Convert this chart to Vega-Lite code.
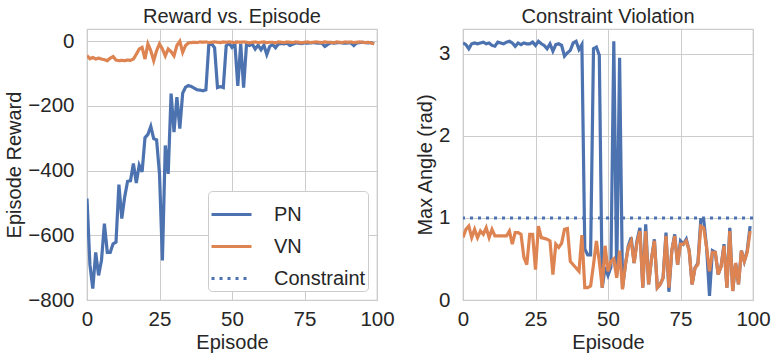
{
 "$schema": "https://vega.github.io/schema/vega-lite/v6.json",
 "padding": {"left": 4, "top": 6, "right": 5, "bottom": 5},
 "bounds": "flush",
 "spacing": 86,
 "datasets": {
  "reward": [
   {"e":0,"PN":-486,"VN":-44},{"e":1,"PN":-690,"VN":-54},{"e":2,"PN":-765,"VN":-50},{"e":3,"PN":-653,"VN":-55},{"e":4,"PN":-724,"VN":-52},
   {"e":5,"PN":-677,"VN":-55},{"e":6,"PN":-564,"VN":-57},{"e":7,"PN":-653,"VN":-60},{"e":8,"PN":-653,"VN":-52},{"e":9,"PN":-626,"VN":-47},
   {"e":10,"PN":-621,"VN":-58},{"e":11,"PN":-443,"VN":-60},{"e":12,"PN":-548,"VN":-59},{"e":13,"PN":-481,"VN":-60},{"e":14,"PN":-433,"VN":-58},
   {"e":15,"PN":-431,"VN":-59},{"e":16,"PN":-378,"VN":-55},{"e":17,"PN":-438,"VN":-40},{"e":18,"PN":-383,"VN":-24},{"e":19,"PN":-404,"VN":-19},
   {"e":20,"PN":-298,"VN":-55},{"e":21,"PN":-288,"VN":-8},{"e":22,"PN":-263,"VN":-29},{"e":23,"PN":-301,"VN":-60},{"e":24,"PN":-305,"VN":-29},
   {"e":25,"PN":-410,"VN":-8},{"e":26,"PN":-678,"VN":-24},{"e":27,"PN":-322,"VN":-45},{"e":28,"PN":-410,"VN":-24},{"e":29,"PN":-162,"VN":-32},
   {"e":30,"PN":-281,"VN":-45},{"e":31,"PN":-173,"VN":-13},{"e":32,"PN":-270,"VN":0},{"e":33,"PN":-160,"VN":-34},{"e":34,"PN":-142,"VN":-13},
   {"e":35,"PN":-137,"VN":-5},{"e":36,"PN":-140,"VN":-4},{"e":37,"PN":-145,"VN":-3},{"e":38,"PN":-150,"VN":-4},{"e":39,"PN":-151,"VN":-2},
   {"e":40,"PN":-153,"VN":-3},{"e":41,"PN":-150,"VN":-2},{"e":42,"PN":-11,"VN":-4},{"e":43,"PN":-8,"VN":-3},{"e":44,"PN":-20,"VN":-2},
   {"e":45,"PN":-143,"VN":-3},{"e":46,"PN":-140,"VN":-4},{"e":47,"PN":-143,"VN":-2},{"e":48,"PN":-14,"VN":-3},{"e":49,"PN":-6,"VN":-2},
   {"e":50,"PN":-19,"VN":-3},{"e":51,"PN":-8,"VN":-4},{"e":52,"PN":-138,"VN":-2},{"e":53,"PN":-8,"VN":-3},{"e":54,"PN":-143,"VN":-2},
   {"e":55,"PN":-10,"VN":-3},{"e":56,"PN":-13,"VN":-5},{"e":57,"PN":-9,"VN":-3},{"e":58,"PN":-24,"VN":-2},{"e":59,"PN":-12,"VN":-4},
   {"e":60,"PN":-26,"VN":-3},{"e":61,"PN":-12,"VN":-2},{"e":62,"PN":-41,"VN":-4},{"e":63,"PN":-16,"VN":-3},{"e":64,"PN":-10,"VN":-3},
   {"e":65,"PN":-20,"VN":-5},{"e":66,"PN":-8,"VN":-2},{"e":67,"PN":-7,"VN":-3},{"e":68,"PN":-8,"VN":-4},{"e":69,"PN":-6,"VN":-2},
   {"e":70,"PN":-13,"VN":-3},{"e":71,"PN":-9,"VN":-4},{"e":72,"PN":-5,"VN":-2},{"e":73,"PN":-6,"VN":-3},{"e":74,"PN":-7,"VN":-5},
   {"e":75,"PN":-5,"VN":-3},{"e":76,"PN":-6,"VN":-2},{"e":77,"PN":-5,"VN":-4},{"e":78,"PN":-4,"VN":-3},{"e":79,"PN":-5,"VN":-2},
   {"e":80,"PN":-6,"VN":-3},{"e":81,"PN":-6,"VN":-4},{"e":82,"PN":-16,"VN":-2},{"e":83,"PN":-10,"VN":-3},{"e":84,"PN":-4,"VN":-3},
   {"e":85,"PN":-6,"VN":-5},{"e":86,"PN":-5,"VN":-2},{"e":87,"PN":-4,"VN":-3},{"e":88,"PN":-5,"VN":-4},{"e":89,"PN":-6,"VN":-2},
   {"e":90,"PN":-5,"VN":-3},{"e":91,"PN":-5,"VN":-2},{"e":92,"PN":-13,"VN":-4},{"e":93,"PN":-5,"VN":-3},{"e":94,"PN":-4,"VN":-2},
   {"e":95,"PN":-3,"VN":-3},{"e":96,"PN":-4,"VN":-4},{"e":97,"PN":-5,"VN":-3},{"e":98,"PN":-4,"VN":-5},{"e":99,"PN":-8,"VN":-8}
  ],
  "angle": [
   {"e":0,"PN":3.13,"VN":0.76},{"e":1,"PN":3.11,"VN":0.86},{"e":2,"PN":3.06,"VN":0.90},{"e":3,"PN":3.12,"VN":0.76},{"e":4,"PN":3.13,"VN":0.86},
   {"e":5,"PN":3.12,"VN":0.76},{"e":6,"PN":3.13,"VN":0.84},{"e":7,"PN":3.14,"VN":0.80},{"e":8,"PN":3.12,"VN":0.88},{"e":9,"PN":3.13,"VN":0.76},
   {"e":10,"PN":3.10,"VN":0.86},{"e":11,"PN":3.09,"VN":0.78},{"e":12,"PN":3.14,"VN":0.78},{"e":13,"PN":3.13,"VN":0.78},{"e":14,"PN":3.12,"VN":0.78},
   {"e":15,"PN":3.14,"VN":0.78},{"e":16,"PN":3.15,"VN":0.84},{"e":17,"PN":3.13,"VN":0.68},{"e":18,"PN":3.09,"VN":0.82},{"e":19,"PN":3.13,"VN":0.82},
   {"e":20,"PN":3.11,"VN":0.80},{"e":21,"PN":3.13,"VN":0.52},{"e":22,"PN":3.12,"VN":0.43},{"e":23,"PN":3.12,"VN":0.80},{"e":24,"PN":3.14,"VN":0.80},
   {"e":25,"PN":3.10,"VN":0.37},{"e":26,"PN":3.15,"VN":0.90},{"e":27,"PN":3.12,"VN":0.76},{"e":28,"PN":3.10,"VN":0.75},{"e":29,"PN":3.06,"VN":0.74},
   {"e":30,"PN":3.12,"VN":0.72},{"e":31,"PN":3.03,"VN":0.31},{"e":32,"PN":3.11,"VN":0.68},{"e":33,"PN":3.12,"VN":0.64},{"e":34,"PN":3.10,"VN":0.69},
   {"e":35,"PN":2.97,"VN":0.86},{"e":36,"PN":3.01,"VN":0.87},{"e":37,"PN":3.04,"VN":0.47},{"e":38,"PN":3.13,"VN":0.43},{"e":39,"PN":3.15,"VN":0.39},
   {"e":40,"PN":3.05,"VN":0.35},{"e":41,"PN":3.11,"VN":0.79},{"e":42,"PN":0.62,"VN":0.15},{"e":43,"PN":0.55,"VN":0.15},{"e":44,"PN":0.55,"VN":0.17},
   {"e":45,"PN":3.06,"VN":0.43},{"e":46,"PN":3.08,"VN":0.72},{"e":47,"PN":2.98,"VN":0.47},{"e":48,"PN":0.15,"VN":0.15},{"e":49,"PN":0.40,"VN":0.66},
   {"e":50,"PN":0.30,"VN":0.35},{"e":51,"PN":0.40,"VN":0.47},{"e":52,"PN":3.15,"VN":0.50},{"e":53,"PN":0.30,"VN":0.27},{"e":54,"PN":2.95,"VN":0.60},
   {"e":55,"PN":0.15,"VN":0.13},{"e":56,"PN":0.43,"VN":0.43},{"e":57,"PN":0.66,"VN":0.64},{"e":58,"PN":0.76,"VN":0.72},{"e":59,"PN":0.45,"VN":0.45},
   {"e":60,"PN":0.72,"VN":0.70},{"e":61,"PN":0.88,"VN":0.84},{"e":62,"PN":0.15,"VN":0.15},{"e":63,"PN":0.92,"VN":0.84},{"e":64,"PN":0.19,"VN":0.19},
   {"e":65,"PN":0.50,"VN":0.50},{"e":66,"PN":0.74,"VN":0.72},{"e":67,"PN":0.15,"VN":0.15},{"e":68,"PN":0.19,"VN":0.19},{"e":69,"PN":0.27,"VN":0.27},
   {"e":70,"PN":0.82,"VN":0.78},{"e":71,"PN":0.10,"VN":0.15},{"e":72,"PN":0.60,"VN":0.60},{"e":73,"PN":0.80,"VN":0.78},{"e":74,"PN":0.43,"VN":0.43},
   {"e":75,"PN":0.72,"VN":0.68},{"e":76,"PN":0.68,"VN":0.68},{"e":77,"PN":0.74,"VN":0.72},{"e":78,"PN":0.60,"VN":0.60},{"e":79,"PN":0.19,"VN":0.19},
   {"e":80,"PN":0.39,"VN":0.39},{"e":81,"PN":0.45,"VN":0.43},{"e":82,"PN":0.98,"VN":0.90},{"e":83,"PN":0.98,"VN":0.88},{"e":84,"PN":0.64,"VN":0.64},
   {"e":85,"PN":0.05,"VN":0.35},{"e":86,"PN":0.60,"VN":0.58},{"e":87,"PN":0.58,"VN":0.58},{"e":88,"PN":0.31,"VN":0.31},{"e":89,"PN":0.41,"VN":0.41},
   {"e":90,"PN":0.68,"VN":0.66},{"e":91,"PN":0.15,"VN":0.15},{"e":92,"PN":0.88,"VN":0.84},{"e":93,"PN":0.11,"VN":0.11},{"e":94,"PN":0.45,"VN":0.45},
   {"e":95,"PN":0.19,"VN":0.19},{"e":96,"PN":0.60,"VN":0.60},{"e":97,"PN":0.47,"VN":0.47},{"e":98,"PN":0.60,"VN":0.58},{"e":99,"PN":0.90,"VN":0.84}
  ]
 },
 "hconcat": [
  {
   "width": 290,
   "height": 271,
   "title": "Reward vs. Episode",
   "data": {"name": "reward"},
   "transform": [{"fold": ["PN", "VN"], "as": ["s", "v"]}],
   "mark": {"type": "line", "strokeWidth": 3.2, "clip": true},
   "encoding": {
    "x": {"field": "e", "type": "quantitative", "scale": {"domain": [0, 100], "nice": false}, "axis": {"values": [0, 25, 50, 75, 100], "title": "Episode"}},
    "y": {"field": "v", "type": "quantitative", "scale": {"domain": [-800, 38], "nice": false, "zero": false}, "axis": {"values": [-800, -600, -400, -200, 0], "title": "Episode Reward"}},
    "color": {"field": "s", "type": "nominal", "scale": {"domain": ["PN", "VN", "Constraint"], "range": ["#4c72b0", "#dd8452", "#4c72b0"]}, "legend": {"title": null}},
    "strokeDash": {"field": "s", "type": "nominal", "scale": {"domain": ["PN", "VN", "Constraint"], "range": [[1, 0], [1, 0], [3, 5]]}, "legend": {"title": null}}
   }
  },
  {
   "width": 290,
   "height": 271,
   "title": "Constraint Violation",
   "layer": [
    {
     "data": {"name": "angle"},
     "transform": [{"fold": ["PN", "VN"], "as": ["s", "v"]}],
     "mark": {"type": "line", "strokeWidth": 3.2, "clip": true},
     "encoding": {
      "x": {"field": "e", "type": "quantitative", "scale": {"domain": [0, 100], "nice": false}, "axis": {"values": [0, 25, 50, 75, 100], "title": "Episode"}},
      "y": {"field": "v", "type": "quantitative", "scale": {"domain": [0, 3.3], "nice": false}, "axis": {"values": [0, 1, 2, 3], "format": "d", "title": "Max Angle (rad)"}},
      "color": {"field": "s", "type": "nominal", "scale": {"domain": ["PN", "VN"], "range": ["#4c72b0", "#dd8452"]}, "legend": null}
     }
    },
    {
     "data": {"values": [{"c": 1}]},
     "mark": {"type": "rule", "color": "#4c72b0", "strokeWidth": 3, "strokeDash": [3, 5]},
     "encoding": {"y": {"field": "c", "type": "quantitative"}}
    }
   ]
  }
 ],
 "resolve": {"scale": {"color": "independent", "strokeDash": "independent"}, "legend": {"color": "independent", "strokeDash": "independent"}},
 "config": {
  "font": "Liberation Sans",
  "view": {"stroke": "#cccccc", "strokeWidth": 1.25},
  "axis": {"gridColor": "#cccccc", "gridWidth": 1, "domain": false, "ticks": false, "labelFontSize": 20.5, "labelColor": "#262626", "titleFontSize": 20, "titleColor": "#262626", "titleFontWeight": "normal", "labelFlush": false, "labelOverlap": false},
  "axisX": {"labelPadding": 9, "titlePadding": 3},
  "axisY": {"labelPadding": 13, "titlePadding": 3},
  "title": {"fontSize": 20, "fontWeight": "normal", "color": "#262626", "offset": 2, "anchor": "middle"},
  "legend": {"orient": "bottom-right", "offset": 9, "padding": 2, "strokeColor": "#cccccc", "cornerRadius": 4, "fillColor": "#ffffff", "labelFontSize": 20, "labelColor": "#262626", "symbolType": "stroke", "symbolSize": 1600, "symbolStrokeWidth": 3, "rowPadding": -9, "labelOffset": 21}
 }
}
